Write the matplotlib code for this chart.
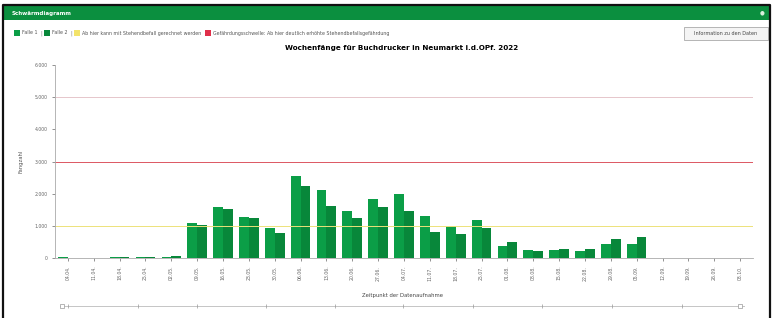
from matplotlib import pyplot as plt
from matplotlib.patches import Rectangle
import numpy as np

# weekly catches, two traps
dates = ['04.04.', '11.04.', '18.04.', '25.04.', '02.05.', '09.05.', '16.05.',
         '23.05.', '30.05.', '06.06.', '13.06.', '20.06.', '27.06.', '04.07.',
         '11.07.', '18.07.', '25.07.', '01.08.', '08.08.', '15.08.', '22.08.',
         '29.08.', '05.09.', '12.09.', '19.09.', '26.09.', '03.10.']
falle1 = [20, 0, 20, 30, 40, 1080, 1600, 1270, 930, 2540, 2100, 1460, 1820,
          1980, 1300, 990, 1180, 380, 250, 240, 210, 430, 430, 0, 0, 0, 0]
falle2 = [10, 10, 30, 40, 50, 1020, 1530, 1240, 780, 2230, 1620, 1230, 1570,
          1460, 815, 740, 940, 500, 230, 270, 270, 580, 640, 0, 0, 0, 0]
schwelle_gelb = 1000
schwelle_rot = 3000
linie_oben = 5000
yticks = [0, 1000, 2000, 3000, 4000, 5000, 6000]
ytick_labels = ['0', '1.000', '2.000', '3.000', '4.000', '5.000', '6.000']

W, H = 774, 318
fig = plt.figure(figsize=(W / 100, H / 100), dpi=100)

def fx(px):
    return px / W

def fy(py):
    return 1 - py / H

# frame (left, top, right) and header bar
fig.add_artist(plt.Line2D([fx(3.5), fx(3.5), fx(769.5), fx(769.5)], [0, fy(5), fy(5), 0],
                          transform=fig.transFigure, color='#111111', linewidth=1.6))
fig.patches.append(Rectangle((fx(4), fy(20)), fx(765), 15 / H, transform=fig.transFigure,
                             facecolor='#0b8f3f', edgecolor='none'))
fig.text(fx(12), fy(13), 'Schwärmdiagramm', color='white', fontsize=4, fontweight='bold',
         va='center')
fig.text(fx(762), fy(12.5), '●', color='#d8f0dd', fontsize=4, ha='center', va='center')

# legend row
leg_y = fy(33)
items = [(14, '#0b9e47', 'Falle 1'), (44, '#08873a', 'Falle 2'),
         (74, '#f3e36a', 'Ab hier kann mit Stehendbefall gerechnet werden'),
         (205, '#e0304a', 'Gefährdungsschwelle: Ab hier deutlich erhöhte Stehendbefallsgefährdung')]
for i, (x0, col, lab) in enumerate(items):
    fig.patches.append(Rectangle((fx(x0), leg_y - 3 / H), 6 / W, 6 / H, transform=fig.transFigure,
                                 facecolor=col, edgecolor='none'))
    fig.text(fx(x0 + 8), leg_y, lab, fontsize=3.4, color='#555555', va='center')
    if i < 2:
        fig.text(fx(x0 + 26), leg_y, '|', fontsize=3.5, color='#777777', va='center')

# info button
fig.patches.append(Rectangle((fx(684), fy(40)), 84 / W, 13 / H, transform=fig.transFigure,
                             facecolor='#f4f4f4', edgecolor='#aaaaaa', linewidth=0.6))
fig.text(fx(726), fy(33.5), 'Information zu den Daten', fontsize=3.5, color='#444444',
         ha='center', va='center')

fig.text(fx(402), fy(48), 'Wochenfänge für Buchdrucker in Neumarkt i.d.OPf. 2022',
         fontsize=5.2, fontweight='bold', ha='center', va='center')

# main chart
ax = fig.add_axes([fx(55), fy(258), 698 / W, 193 / H])
x = np.arange(len(dates))
w = 0.38
ax.bar(x - w / 2, falle1, w, color='#0b9e47')
ax.bar(x + w / 2, falle2, w, color='#08873a')
ax.axhline(schwelle_gelb, color='#ede27a', linewidth=0.7)
ax.axhline(schwelle_rot, color='#dc5662', linewidth=0.7)
ax.axhline(linie_oben, color='#e6c6cb', linewidth=0.7)

ax.set_xlim(-0.5, len(dates) - 0.5)
ax.set_ylim(0, 6000)
ax.set_yticks(yticks)
ax.set_yticklabels(ytick_labels)
ax.set_xticks(x)
ax.set_xticklabels(dates, rotation=90)
ax.tick_params(axis='both', labelsize=3.3, colors='#666666', length=2, width=0.5)
ax.set_ylabel('Fangzahl', fontsize=3.8, color='#555555', labelpad=8)
for s in ['top', 'right']:
    ax.spines[s].set_visible(False)
ax.spines['left'].set_color('#aaaaaa')
ax.spines['bottom'].set_color('#aaaaaa')
ax.spines['left'].set_linewidth(0.6)
ax.spines['bottom'].set_linewidth(0.6)

fig.text(fx(402), fy(296), 'Zeitpunkt der Datenaufnahme', fontsize=3.8, color='#444444',
         ha='center', va='center')

# range navigator
nav = fig.add_axes([fx(60), fy(310), 685 / W, 8 / H])
nav.axis('off')
nav.set_xlim(0, 685)
nav.set_ylim(0, 1)
nav.plot([0, 685], [0.5, 0.5], color='#bbbbbb', linewidth=0.6)
nav.plot([8, 78, 137, 206, 275, 343, 413, 482, 552, 622], [0.5] * 10, '|',
         color='#999999', markersize=3, markeredgewidth=0.5)
nav.plot([2, 680], [0.5, 0.5], 's', color='white', markeredgecolor='#999999',
         markersize=3, markeredgewidth=0.5)

fig.savefig('out.png', dpi=100)
